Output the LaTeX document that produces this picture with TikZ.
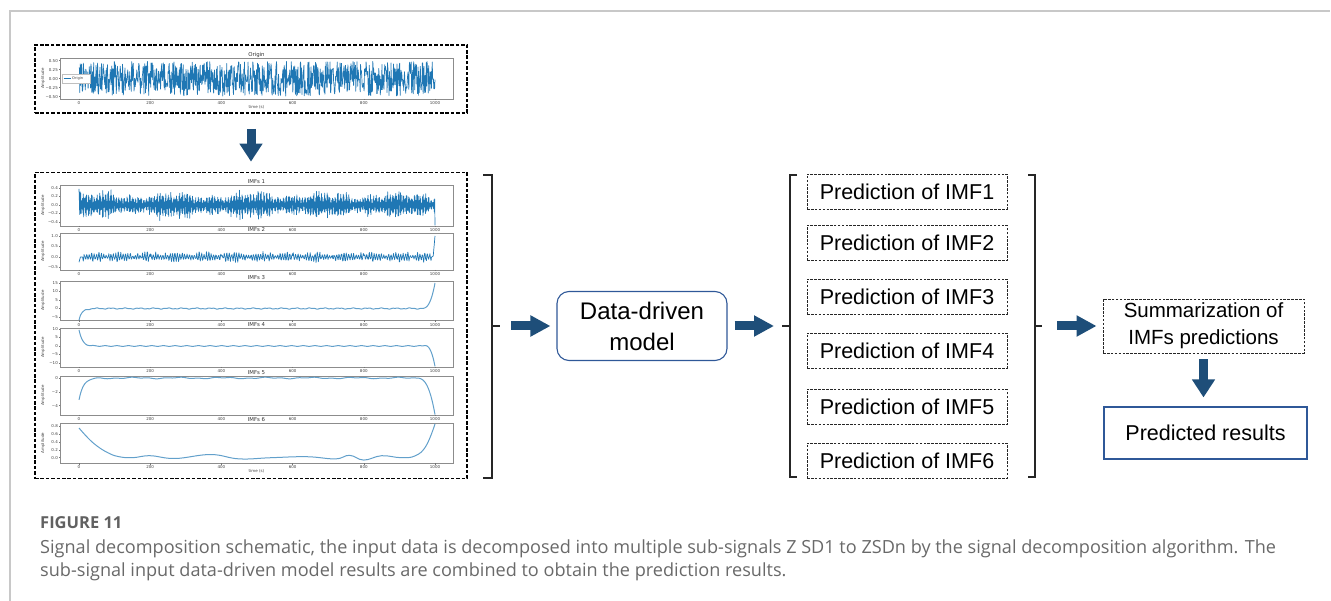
\documentclass[tikz,border=0pt]{standalone}
\usepackage{fontspec}
\setmainfont{Liberation Sans}
\newfontfamily\mplfont{DejaVu Sans}
\newfontfamily\capfont{Open Sans}
\usetikzlibrary{arrows.meta,calc}

\definecolor{arrownavy}{RGB}{30,78,121}
\definecolor{boxblue}{RGB}{47,88,152}
\definecolor{mplblue}{RGB}{31,119,180}
\definecolor{capgray}{RGB}{105,105,105}
\definecolor{framegray}{RGB}{200,200,200}

\tikzset{
  ax/.style={draw=black!45, line width=0.9pt},
  tickmark/.style={draw=black!55, line width=0.4pt},
  sig/.style={draw=mplblue, line width=0.7pt, line join=round},
  smoothsig/.style={draw=mplblue!70!white, line width=1pt, line join=round},
  ticklab/.style={font=\mplfont\fontsize{4}{5}\selectfont, text=black!75, inner sep=0pt},
  plottitle/.style={font=\mplfont\fontsize{5.4}{6}\selectfont, text=black!80, inner sep=0pt},
  outerdash/.style={draw=black, line width=1.7pt, dash pattern=on 3.6pt off 1.8pt, inner sep=0pt},
  thindash/.style={draw=black!85, line width=0.9pt, dash pattern=on 2.6pt off 1.3pt, inner sep=0pt},
  predbox/.style={thindash, minimum width=200pt, minimum height=35pt,
    font=\fontsize{21.5}{24}\selectfont},
  bluebox/.style={draw=boxblue, line width=1.1pt, inner sep=0pt},
  brk/.style={draw=black!85, line width=1.2pt},
  blockarr/.style={draw=arrownavy, line width=9pt, -{Triangle[length=20pt,width=20pt]}},
  captext/.style={font=\capfont\fontsize{18.1}{20}\selectfont, text=capgray, inner sep=0pt, anchor=base west},
}

% frame of one subplot: #1 top, #2 bottom, #3 title, #4 id
\newcommand{\pframe}[4]{%
  \draw[ax] (60,#1) rectangle (453,#2);
  \foreach \v in {0,200,400,600,800,1000} {
    \draw[tickmark] ({79+0.356*\v},#2) -- ++(0,1.5);
    \node[ticklab, anchor=north] (xt#4-\v) at ({79+0.356*\v},{#2+2.6}) {\v};
  }
  \node[plottitle, anchor=base] (title#4) at (256.5,{#1-1.6}) {#3};
  \node[ticklab, rotate=90] (ylab#4) at (43,{(#1+#2)/2}) {Amplitude};
}
% y ticks: #1 zero line, #2 pixels per unit, #3 value/label list, #4 id
\newcommand{\yticks}[4]{%
  \foreach \v/\l [count=\k] in {#3} {
    \draw[tickmark] (60,{#1-#2*\v}) -- ++(-1.5,0);
    \node[ticklab, anchor=east] (yt#4-\k) at (58,{#1-#2*\v}) {\l};
  }
}

\begin{document}
\begin{tikzpicture}[x=1pt, y=-1pt]
\useasboundingbox (0,0) rectangle (1331,601);
\pgfmathsetseed{20231}

% page frame
\draw[framegray, line width=1.2pt] (10,601) -- (10,11) -- (1330,11);

% ---------- original signal ----------
\node[outerdash, minimum width=432pt, minimum height=68pt] (originbox) at (251,79) {};
\pframe{58}{99}{Origin}{o}
\yticks{78.7}{36}{0.5/0.50,0.25/0.25,0/0.00,-0.25/−0.25,-0.5/−0.50}{o}
\node[ticklab, anchor=north] (timeo) at (256.5,105) {time (s)};
\begin{scope}[shift={(79,78.7)}, x=0.356pt, y=36pt]
  \draw[sig] plot[domain=0:1000, samples=900, variable=\t] (\t,{0.48*rand});
\end{scope}
\draw[draw=black!25, line width=0.4pt, fill=white] (62,74) rectangle (90,83);
\draw[mplblue, line width=0.7pt] (63.5,78.5) -- (70.5,78.5);
\node[ticklab, anchor=west, font=\mplfont\fontsize{3.6}{4}\selectfont] (legend) at (72,78.5) {Origin};

% ---------- decomposed components ----------
\node[outerdash, minimum width=432pt, minimum height=306pt] (imfbox) at (251,325.5) {};

% IMF 1
\pframe{185}{226}{IMFs 1}{a}
\yticks{205}{42.5}{0.4/0.4,0.2/0.2,0/0.0,-0.2/−0.2,-0.4/−0.4}{a}
\begin{scope}[shift={(79,205)}, x=0.356pt, y=42.5pt]
  \draw[sig] (0,0.38) -- plot[domain=1:999, samples=999, variable=\t]
    (\t,{(0.27+0.06*sin(1.7*\t)+0.05*sin(4.9*\t+60)+0.03*sin(13*\t))*(0.55+0.45*rnd)*sin(157*mod(\t,100))})
    -- (1000,-0.48);
\end{scope}

% IMF 2
\pframe{233}{270}{IMFs 2}{b}
\yticks{257}{21}{1/1.0,0.5/0.5,0/0.0,-0.5/−0.5}{b}
\begin{scope}[shift={(79,257)}, x=0.356pt, y=21pt]
  \draw[sig] (0,-0.25) -- (4,0) -- (10,0) -- plot[domain=12:990, samples=900, variable=\t]
    (\t,{(0.07+0.12*abs(sin(2.3*\t))+0.11*abs(sin(7.1*\t+20)))*(0.25+0.75*rnd)*sin(53*mod(\t,200))})
    -- (995,0.05) -- (1000,1.0);
\end{scope}

% IMF 3
\pframe{281}{320.5}{IMFs 3}{c}
\yticks{308.5}{1.7}{15/15,10/10,5/5,0/0,-5/−5}{c}
\begin{scope}[shift={(79,308.5)}, x=0.356pt, y=1.7pt]
  \draw[smoothsig] plot[domain=0:960, samples=260, variable=\t]
    (\t,{-6.8*exp(max(-\t/9,-12))+0.25*sin(9*\t)+0.15*sin(23*mod(\t,360))})
    -- plot[domain=961:1000, samples=20, variable=\t]
    (\t,{15*((\t-960)/40)*((\t-960)/40)*((\t-960)/40)});
\end{scope}

% IMF 4
\pframe{328}{367}{IMFs 4}{d}
\yticks{346}{1.7}{10/10,5/5,0/0,-5/−5,-10/−10}{d}
\begin{scope}[shift={(79,346)}, x=0.356pt, y=1.7pt]
  \draw[smoothsig] plot[domain=0:965, samples=260, variable=\t]
    (\t,{9.5*exp(max(-\t/9,-12))+0.2*sin(11*\t)})
    -- plot[domain=966:1000, samples=20, variable=\t]
    (\t,{0.6*sin((\t-965)/35*180)-12*((\t-965)/35)*((\t-965)/35)*((\t-965)/35)});
\end{scope}

% IMF 5
\pframe{376}{415}{IMFs 5}{e}
\yticks{378}{6.9}{0/0,-2/−2,-4/−4}{e}
\begin{scope}[shift={(79,378)}, x=0.356pt, y=6.9pt]
  \draw[smoothsig] plot[domain=0:945, samples=300, variable=\t]
    (\t,{-3.2*exp(max(-\t/13,-12))+0.07*sin(2.9*\t)+0.05*sin(7.7*\t+30)})
    -- plot[domain=946:1000, samples=25, variable=\t]
    (\t,{-5.3*((\t-945)/55)*((\t-945)/55)*((\t-945)/55)});
\end{scope}

% IMF 6
\pframe{423}{463}{IMFs 6}{f}
\yticks{457.7}{39.6}{0.8/0.8,0.6/0.6,0.4/0.4,0.2/0.2,0/0.0}{f}
\node[ticklab, anchor=north] (timef) at (256.5,469.5) {time (s)};
\begin{scope}[shift={(79,457.7)}, x=0.356pt, y=39.6pt]
  \draw[smoothsig] plot[smooth, tension=0.7] coordinates {
    (0,0.75) (25,0.5) (50,0.3) (80,0.13) (110,0.03) (150,0.0) (200,0.05)
    (270,-0.02) (370,0.08) (450,-0.03) (540,0.0) (640,0.025) (720,-0.03)
    (760,0.06) (800,-0.06) (850,0.05) (905,0.0) (945,0.05) (975,0.3) (1000,0.85)};
\end{scope}

\draw[blockarr, line width=9pt, -{Triangle[length=18pt,width=22pt]}, shorten <=15pt, shorten >=10pt]
  (originbox.south) -- (imfbox.north);

% ---------- model and prediction stage ----------
\coordinate (b1mid) at (500,326);
\draw[brk] (483,175) -- (492,175) -- (492,478) -- (483,478);
\draw[brk] (492,326) -- (b1mid);

\node[bluebox, rounded corners=12pt, minimum width=170pt, minimum height=69pt, align=center,
      font=\fontsize{24}{31}\selectfont] (ddm) at (642,326) {Data-driven\\model};

\draw[blockarr, shorten <=11pt, shorten >=6pt] (b1mid) -- (ddm.west);

\coordinate (b2mid) at (782,326);
\draw[brk] (797,175) -- (790,175) -- (790,477) -- (797,477);
\draw[brk] (790,326) -- (b2mid);
\draw[blockarr, shorten <=7pt, shorten >=8pt] (ddm.east) -- (b2mid);

\node[predbox] (p1) at (907,191.5) {Prediction of IMF1};
\node[predbox] (p2) at (907,243) {Prediction of IMF2};
\node[predbox] (p3) at (907,296.5) {Prediction of IMF3};
\node[predbox] (p4) at (907,350.5) {Prediction of IMF4};
\node[predbox] (p5) at (907,407) {Prediction of IMF5};
\node[predbox] (p6) at (907,460.5) {Prediction of IMF6};

\coordinate (b3mid) at (1042,326);
\draw[brk] (1028,175) -- (1035,175) -- (1035,477) -- (1028,477);
\draw[brk] (1035,326) -- (b3mid);

\node[thindash, minimum width=201pt, minimum height=54pt, align=center,
      font=\fontsize{20.5}{27}\selectfont] (summ) at (1203.5,326) {Summarization of\\IMFs predictions};
\draw[blockarr, shorten <=15pt, shorten >=6pt] (b3mid) -- (summ.west);

\node[bluebox, minimum width=203pt, minimum height=52pt,
      font=\fontsize{21.5}{24}\selectfont] (result) at (1205.5,433) {Predicted results};
\draw[blockarr, -{Triangle[length=18pt,width=22pt]}, shorten <=6pt, shorten >=9pt]
  (summ.south) -- (summ.south |- result.north);

% ---------- caption ----------
\node[captext, font=\capfont\bfseries\fontsize{16.5}{20}\selectfont, text=black!62] (figlabel) at (40,528) {FIGURE 11};
\node[captext] (capline1) at (40,553) {Signal decomposition schematic, the input data is decomposed into multiple sub-signals Z SD1 to ZSDn by the signal decomposition algorithm. The};
\node[captext] (capline2) at (40,576) {sub-signal input data-driven model results are combined to obtain the prediction results.};
\end{tikzpicture}
\end{document}
